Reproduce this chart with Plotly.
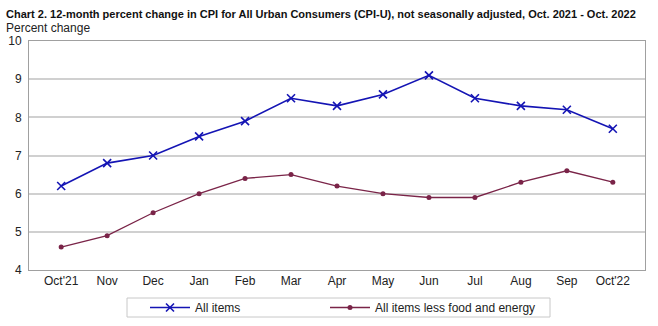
import plotly.graph_objects as go

months = ["Oct'21", "Nov", "Dec", "Jan", "Feb", "Mar", "Apr", "May", "Jun",
          "Jul", "Aug", "Sep", "Oct'22"]
all_items = [6.2, 6.8, 7.0, 7.5, 7.9, 8.5, 8.3, 8.6, 9.1, 8.5, 8.3, 8.2, 7.7]
core = [4.6, 4.9, 5.5, 6.0, 6.4, 6.5, 6.2, 6.0, 5.9, 5.9, 6.3, 6.6, 6.3]
y_ticks = [4, 5, 6, 7, 8, 9, 10]

FONT = "Liberation Sans, Arial, sans-serif"
W, H = 658, 326
ML, MR, MT, MB = 29, 13, 41, 56
PW, PH = W - ML - MR, H - MT - MB
idx = list(range(len(months)))


def px_x(px):
    """Horizontal pixel position -> paper coordinate."""
    return (px - ML) / PW


def px_y(py):
    """Vertical pixel position (from top) -> paper coordinate."""
    return (H - MB - py) / PH


fig = go.Figure()
fig.add_trace(go.Scatter(
    x=idx, y=all_items, name="All items", mode="lines+markers",
    line=dict(color="#1414b4", width=1.6),
    marker=dict(symbol="x-thin", size=8, line=dict(color="#1414b4", width=1.6)),
    legend="legend",
))
fig.add_trace(go.Scatter(
    x=idx, y=core, name="All items less food and energy", mode="lines+markers",
    line=dict(color="#7a2448", width=1.3),
    marker=dict(symbol="circle", size=5, color="#7a2448"),
    legend="legend2",
))

legend_common = dict(
    orientation="h", xanchor="left", yanchor="middle",
    yref="container", y=1 - 307.5 / H,
    borderwidth=0, bgcolor="rgba(0,0,0,0)", itemwidth=40,
    font=dict(family=FONT, size=12, color="#222222"),
)

fig.update_layout(
    width=W, height=H,
    margin=dict(l=ML, r=MR, t=MT, b=MB),
    paper_bgcolor="white", plot_bgcolor="white",
    font=dict(family=FONT, size=12, color="#222222"),
    showlegend=True,
    legend=dict(x=px_x(145), **legend_common),
    legend2=dict(x=px_x(325), **legend_common),
    xaxis=dict(
        range=[-0.7, 12.7], tickmode="array", tickvals=idx, ticktext=months,
        showgrid=False, showline=True, linecolor="#a0a0a0", linewidth=1,
        mirror=True, ticks="", zeroline=False, automargin=False,
    ),
    yaxis=dict(
        range=[4, 10], tickmode="array", tickvals=y_ticks,
        ticktext=[str(v) for v in y_ticks],
        showgrid=True, gridcolor="#d0d0d0", gridwidth=1.5,
        showline=True, linecolor="#a0a0a0", linewidth=1, mirror=True,
        ticks="", zeroline=False, ticklabelstandoff=4, automargin=False,
    ),
)

# frame around the legend entries
fig.add_shape(
    type="rect", xref="paper", yref="paper",
    x0=px_x(127), x1=px_x(550), y0=px_y(317), y1=px_y(298),
    line=dict(color="#c8c8c8", width=1), fillcolor="rgba(0,0,0,0)",
    layer="below",
)

fig.add_annotation(
    xref="paper", yref="paper", x=px_x(4), y=px_y(14),
    xanchor="left", yanchor="middle", showarrow=False,
    text="<b>Chart 2. 12-month percent change in CPI for All Urban Consumers (CPI-U), not seasonally adjusted, Oct. 2021 - Oct. 2022</b>",
    font=dict(family=FONT, size=11, color="#111111"),
)
fig.add_annotation(
    xref="paper", yref="paper", x=px_x(4), y=px_y(28),
    xanchor="left", yanchor="middle", showarrow=False,
    text="Percent change",
    font=dict(family=FONT, size=12, color="#222222"),
)

fig.write_html("out.html")
